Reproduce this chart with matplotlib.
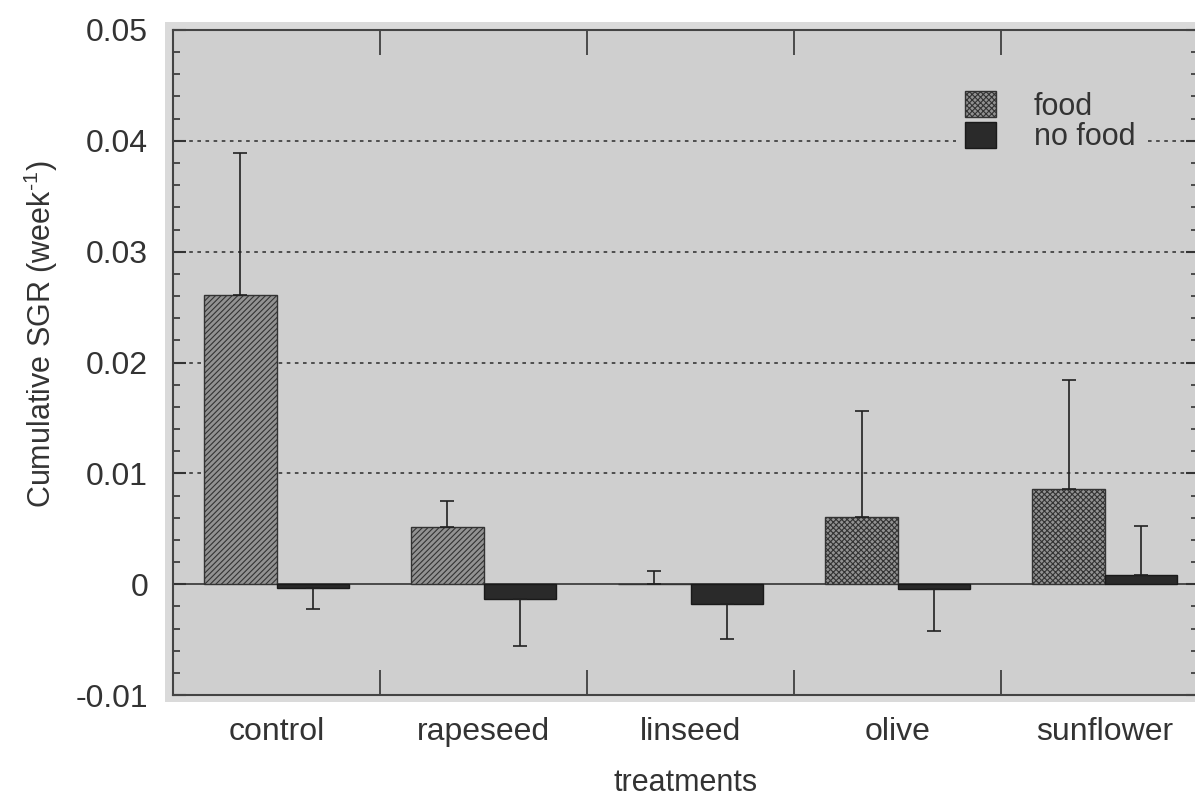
import numpy as np
import matplotlib
matplotlib.use("Agg")
import matplotlib.pyplot as plt
from matplotlib.patches import Rectangle, Patch

plt.rcParams['font.family'] = ['Liberation Sans', 'DejaVu Sans']
plt.rcParams['mathtext.fontset'] = 'custom'
plt.rcParams['mathtext.rm'] = 'Liberation Sans'
plt.rcParams['hatch.linewidth'] = 0.8

# data
treatments = ["control", "rapeseed", "linseed", "olive", "sunflower"]
food = [0.0261, 0.0052, 0.0, 0.0061, 0.0086]
food_err = [0.0128, 0.0023, 0.0012, 0.0095, 0.0098]
nofood = [-0.0003, -0.0013, -0.0018, -0.0004, 0.0008]
nofood_err = [0.0019, 0.0043, 0.0031, 0.0038, 0.0045]
food_hatch = ["//////", "//////", "//////", "xxxxxx", "xxxxxx"]
grid_levels = [0.01, 0.02, 0.03, 0.04]
yticks = [-0.01, 0, 0.01, 0.02, 0.03, 0.04, 0.05]
ytick_labels = ["-0.01", "0", "0.01", "0.02", "0.03", "0.04", "0.05"]

x = np.arange(len(treatments))
w = 0.35
fs = 23

fig = plt.figure(figsize=(11.95, 7.99), dpi=100, facecolor="white")
# light frame around the plotting area (scan border)
fig.patches.append(Rectangle((0.138, 0.121), 1.0, 0.851, transform=fig.transFigure,
                             facecolor="#dadada", edgecolor="none", zorder=-5))
ax = fig.add_axes([0.1448, 0.130, 0.8577, 0.8325])
ax.set_facecolor("#cfcfcf")

for lv in grid_levels:
    ax.axhline(lv, color="#444444", lw=1.3, ls=(0, (2, 2.5)), zorder=1)
ax.axhline(0, color="#333333", lw=1.2, zorder=2)

# food bars, error only upward
for i in range(len(x)):
    ax.bar(x[i] - w / 2, food[i], w, facecolor="#929292", edgecolor="#333333",
           hatch=food_hatch[i], lw=1.0, zorder=3)
ax.errorbar(x - w / 2, food, yerr=[np.zeros(len(x)), food_err], fmt="none",
            ecolor="#222222", elinewidth=1.2, capsize=5, capthick=1.2, zorder=4)

ax.bar(x + w / 2, nofood, w, facecolor="#2a2a2a", edgecolor="#1a1a1a", lw=1.0, zorder=3)
lo = [e if v < 0 else 0 for v, e in zip(nofood, nofood_err)]
hi = [e if v >= 0 else 0 for v, e in zip(nofood, nofood_err)]
ax.errorbar(x + w / 2, nofood, yerr=[lo, hi], fmt="none",
            ecolor="#222222", elinewidth=1.2, capsize=5, capthick=1.2, zorder=4)

ax.set_xlim(-0.5, len(x) - 0.55)
ax.set_ylim(-0.01, 0.05)

ax.set_yticks(yticks)
ax.set_yticklabels(ytick_labels)
ax.set_yticks(np.arange(-0.01, 0.0501, 0.002), minor=True)
ax.tick_params(axis="y", which="major", direction="in", length=9, width=1.5,
               left=True, right=True, labelsize=fs, pad=18, colors="#333333")
ax.tick_params(axis="y", which="minor", direction="in", length=5, width=1.2,
               left=True, right=True, colors="#333333")

ax.set_xticks(x[:-1] + 0.5)
ax.set_xticklabels([])
ax.set_xticks(x, minor=True)
ax.set_xticklabels(treatments, minor=True)
ax.tick_params(axis="x", which="major", direction="in", length=18, width=1.2,
               top=True, bottom=True, colors="#333333")
ax.tick_params(axis="x", which="minor", length=0, labelsize=fs, pad=16,
               colors="#333333")

for s in ax.spines.values():
    s.set_color("#444444")
    s.set_linewidth(1.5)

ax.set_ylabel(r"Cumulative SGR (week$^{\mathrm{\text{-}1}}$)", fontsize=fs - 1,
              color="#333333")
ax.yaxis.set_label_coords(-0.11, 0.543)
ax.set_xlabel("treatments", fontsize=fs - 1, color="#333333", labelpad=15)

handles = [Patch(facecolor="#929292", edgecolor="#333333", hatch="xxxxxx"),
           Patch(facecolor="#2a2a2a", edgecolor="#1a1a1a")]
leg = ax.legend(handles, ["food", "no food"], loc="upper left",
                bbox_to_anchor=(0.749, 0.945), fontsize=fs - 1, frameon=True,
                facecolor="#cfcfcf", edgecolor="none", framealpha=1.0,
                handlelength=1.0, handleheight=0.95, handletextpad=1.25,
                labelspacing=0.0, borderpad=0.3)
for t in leg.get_texts():
    t.set_color("#333333")

fig.savefig("out.png", dpi=100, facecolor="white")
